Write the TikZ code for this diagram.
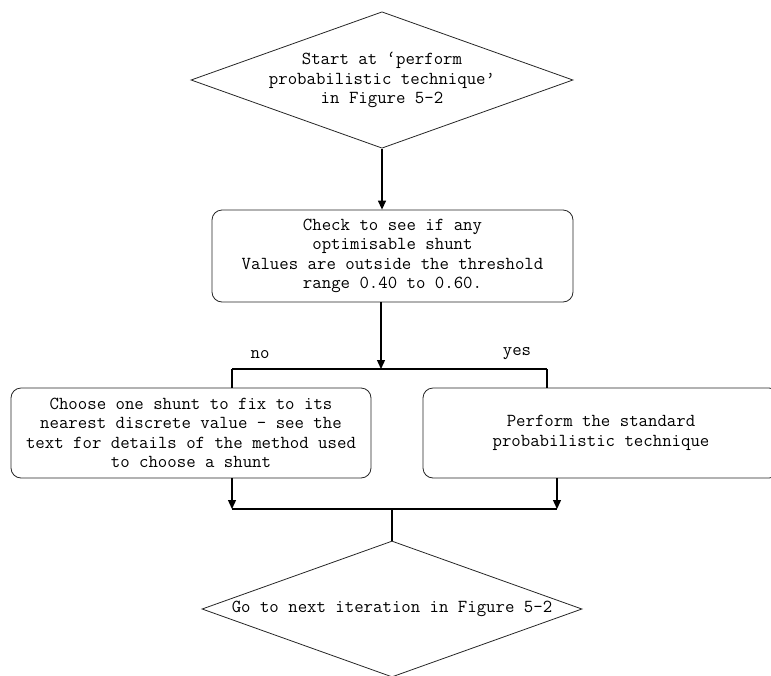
\documentclass[tikz,border=0pt]{standalone}
\usepackage{fontspec}
\usetikzlibrary{shapes.geometric,arrows.meta}

\tikzset{
    every node/.style={font=\ttfamily\fontsize{18.3}{19.5}\selectfont},
    decision/.style={draw=black!85, line width=0.8pt, shape=diamond, aspect=2.8,
        inner sep=0pt, minimum width=380pt, minimum height=136pt, align=center},
    process/.style={draw=black!85, line width=0.8pt, rounded corners=10pt,
        inner sep=0pt, align=center},
    wire/.style={line width=1.3pt},
    flow/.style={wire, -{Triangle[length=9pt,width=8pt]}}
}

\begin{document}
\begin{tikzpicture}[x=1pt, y=-1pt]
    \useasboundingbox (0,0) rectangle (771,675);
    \clip (0,0) rectangle (771,675);
    \node[decision] (start) at (382,80) {Start at ‘perform\\probabilistic technique’\\in Figure 5-2};
    \node[process, minimum width=361pt, minimum height=92pt] (check) at (392.5,256)
        {Check to see if any\\optimisable shunt\\Values are outside the threshold\\range 0.40 to 0.60.};
    \node[process, minimum width=360pt, minimum height=90pt] (fix) at (191,433)
        {Choose one shunt to fix to its\\nearest discrete value - see the\\text for details of the method used\\to choose a shunt};
    \node[process, minimum width=356pt, minimum height=90pt] (std) at (601,433)
        {Perform the standard\\probabilistic technique};
    \node[decision] (next) at (392,609) {Go to next iteration in Figure 5-2};
    \node (no) at (260,355) {no};
    \node (yes) at (517,354) {yes};
    \coordinate (split) at (381,369);
    \coordinate (splitno) at (232,369);
    \coordinate (splityes) at (547,369);
    \coordinate (joinno) at (232,509);
    \coordinate (joinyes) at (557,509);
    \draw[flow] (start.south) -- (start.south |- check.north);
    \draw[flow] (split |- check.south) -- (split);
    \draw[wire] (splitno) -- (splityes);
    \draw[wire] (splitno) -- (splitno |- fix.north);
    \draw[wire] (splityes) -- (splityes |- std.north);
    \draw[flow] (joinno |- fix.south) -- (joinno);
    \draw[flow] (joinyes |- std.south) -- (joinyes);
    \draw[wire] (joinno) -- (joinyes);
    \draw[wire] (joinno -| next.north) -- (next.north);
\end{tikzpicture}
\end{document}
